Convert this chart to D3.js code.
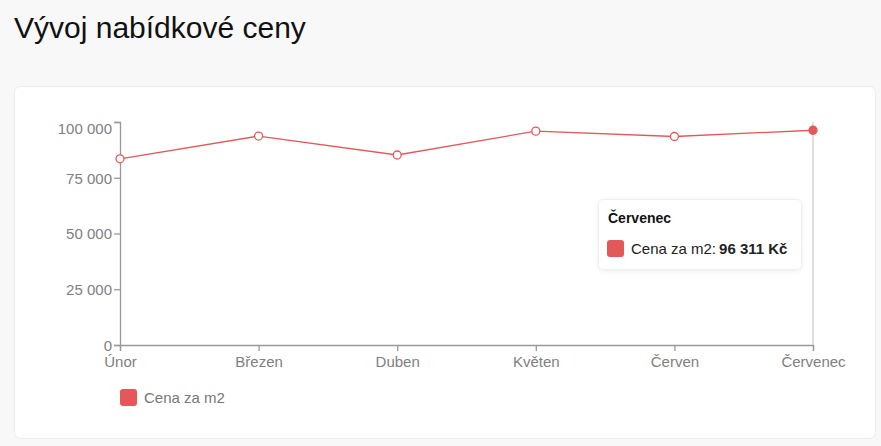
<!DOCTYPE html>
<html><head><meta charset="utf-8">
<script src="https://cdn.jsdelivr.net/npm/d3@7"></script>
<style>
html,body{margin:0;padding:0;background:#f8f8f8;width:881px;height:446px;overflow:hidden;font-family:"Liberation Sans",Arial,sans-serif;}
</style></head><body>
<svg id="c" width="881" height="446"></svg>
<script>
const categories = ["Únor","Březen","Duben","Květen","Červen","Červenec"];
const values = [83500, 93700, 85200, 95900, 93500, 96311];
const yTicks = [0, 25000, 50000, 75000, 100000];
const seriesName = "Cena za m2";
const activeIndex = 5;

const red = "#e35858";
const svg = d3.select("#c");
svg.append("text").attr("x",14).attr("y",38).attr("font-size",30).attr("fill","#111").text("Vývoj nabídkové ceny");

svg.append("rect").attr("x",14.5).attr("y",86.5).attr("width",861).attr("height",352).attr("rx",6)
  .attr("fill","#fff").attr("stroke","#ececec");

const x = d3.scalePoint().domain(categories).range([120,813]);
const y = d3.scaleLinear().domain([0,100000]).range([345,122]);
const fmt = v => d3.format(",")(v).replace(/,/g," ");

const gx = svg.append("g").attr("transform","translate(0,345)")
  .call(d3.axisBottom(x).tickSize(6).tickPadding(5));
const gy = svg.append("g").attr("transform","translate(120,0)")
  .call(d3.axisLeft(y).tickValues(yTicks).tickFormat(fmt).tickSize(6).tickPadding(2));
[gx,gy].forEach(g=>{
  g.selectAll("path,line").attr("stroke","#999").attr("stroke-width",1.3);
  g.selectAll("text").attr("fill","#808080").attr("font-size",15).attr("font-family","Liberation Sans, Arial, sans-serif");
});
gy.selectAll("text").attr("dy",d=>d===100000?"0.75em":"0.35em");

// cursor line
svg.append("line").attr("x1",x(categories[activeIndex])).attr("x2",x(categories[activeIndex]))
  .attr("y1",122).attr("y2",345).attr("stroke","#ccc").attr("stroke-width",1.3);

const line = d3.line().x((d,i)=>x(categories[i])).y(d=>y(d));
svg.append("path").datum(values).attr("d",line).attr("fill","none").attr("stroke",red).attr("stroke-width",1.3);
svg.selectAll("circle.dot").data(values).join("circle")
  .attr("cx",(d,i)=>x(categories[i])).attr("cy",d=>y(d)).attr("r",4)
  .attr("fill",(d,i)=>i===activeIndex?red:"#fff").attr("stroke",red).attr("stroke-width",1.3);

// tooltip
const tt = svg.append("g").attr("transform","translate(598,199)");
tt.append("rect").attr("x",0.5).attr("y",0.5).attr("width",203).attr("height",70).attr("rx",4)
  .attr("fill","#fff").attr("stroke","#f0f0f0").style("filter","drop-shadow(0 1px 2px rgba(0,0,0,0.07))");
tt.append("text").attr("x",10).attr("y",24).attr("font-size",14).attr("font-weight","bold").attr("fill","#111").text(categories[activeIndex]);
tt.append("rect").attr("x",9).attr("y",41).attr("width",17).attr("height",17).attr("rx",3).attr("fill",red);
const t2 = tt.append("text").attr("x",33).attr("y",55).attr("font-size",15).attr("fill","#222");
t2.append("tspan").text(seriesName+":");
t2.append("tspan").attr("dx",3).attr("font-weight","bold").text(fmt(values[activeIndex])+" Kč");

// legend
svg.append("rect").attr("x",120).attr("y",389).attr("width",17).attr("height",17).attr("rx",3).attr("fill",red);
svg.append("text").attr("x",144).attr("y",403).attr("font-size",15).attr("fill","#777").text(seriesName);
</script></body></html>
